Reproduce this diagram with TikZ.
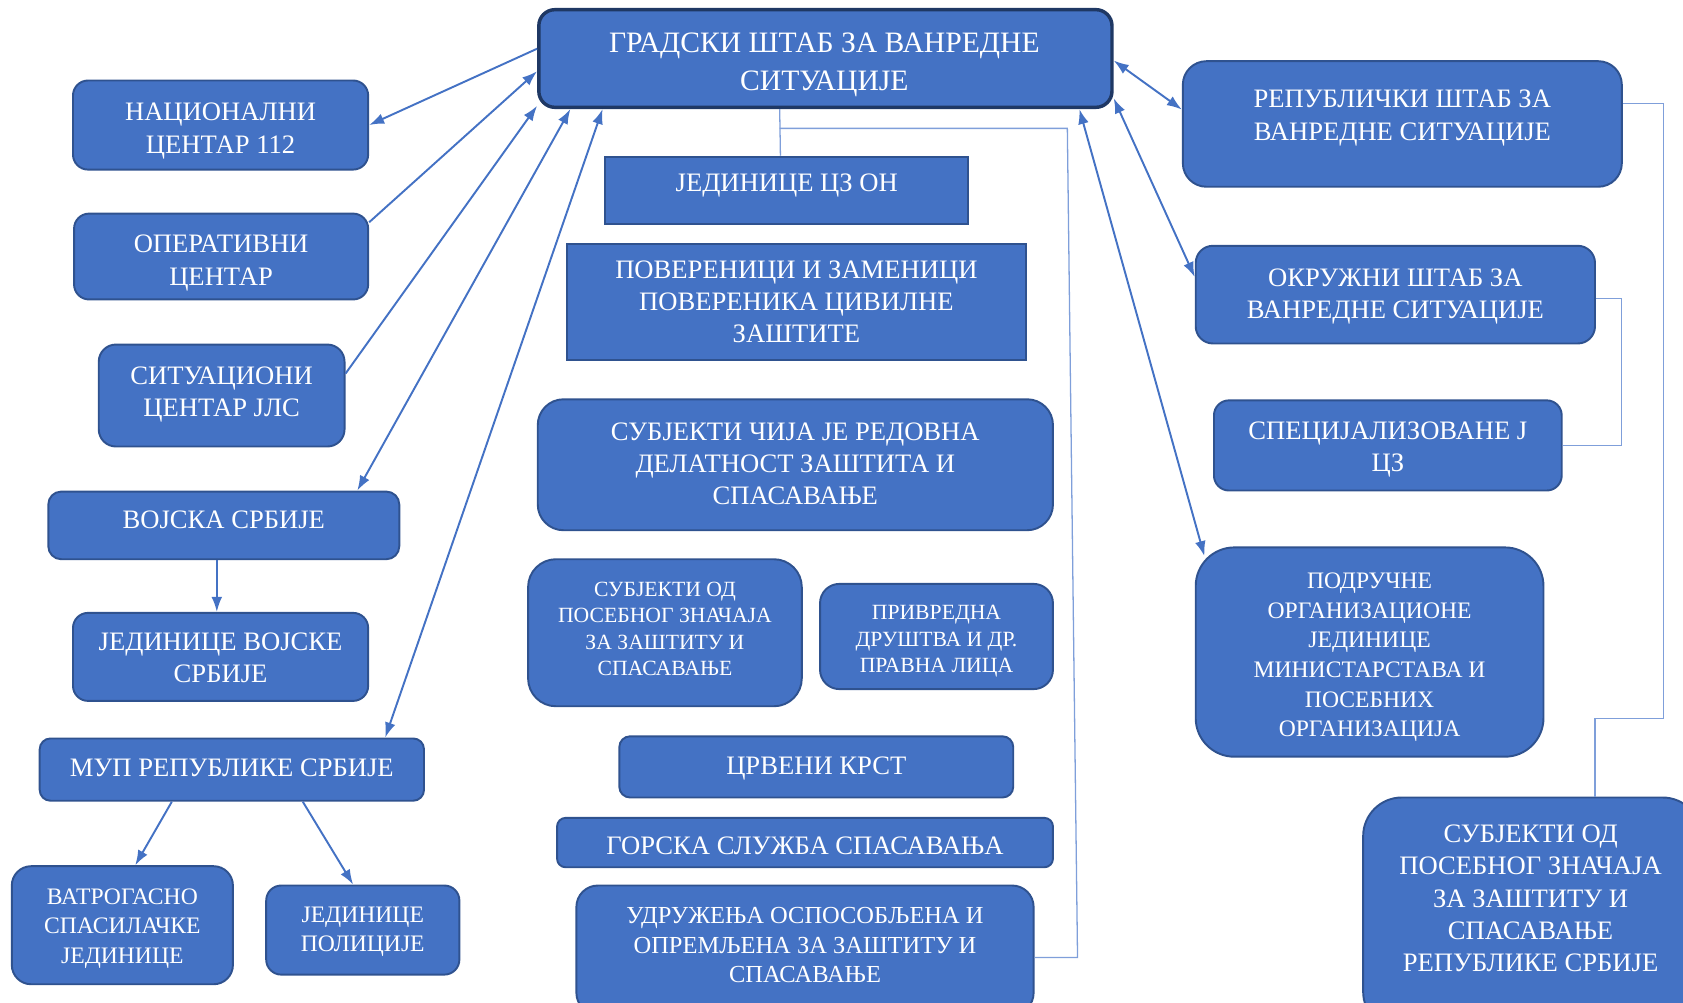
\documentclass[tikz,border=0pt]{standalone}
\usepackage{fontspec}
\setmainfont{Liberation Serif}
\usetikzlibrary{calc,arrows.meta}
\definecolor{bfill}{HTML}{4472C4}
\definecolor{bdraw}{HTML}{2F528F}
\definecolor{mdraw}{HTML}{1F3864}
\definecolor{thinc}{HTML}{7F9FDA}
\definecolor{arrc}{HTML}{4472C4}
\tikzset{
  box/.style={draw=bdraw, fill=bfill, line width=1.8pt, inner sep=0pt, rectangle},
  txt/.style={text=white, align=center, inner sep=0pt},
  fA/.style={font=\fontsize{24.8}{30}\selectfont},
  fM/.style={font=\fontsize{27.6}{35}\selectfont},
  fS/.style={font=\fontsize{20.2}{24.5}\selectfont},
  fV/.style={font=\fontsize{22}{27.5}\selectfont},
  fU/.style={font=\fontsize{22.8}{27.5}\selectfont},
  arr/.style={draw=arrc, line width=1.8pt, -{Latex[length=14pt,width=10pt]}},
  darr/.style={draw=arrc, line width=1.8pt, {Latex[length=14pt,width=10pt]}-{Latex[length=14pt,width=10pt]}},
  thinline/.style={draw=thinc, line width=1.2pt}
}
\begin{document}
\begin{tikzpicture}[x=1pt,y=-1pt]
\useasboundingbox (0,0) rectangle (1568,934);
\clip (0,0) rectangle (1568,934);
% main
\node[box, draw=mdraw, line width=3.2pt, rounded corners=15pt, minimum width=534pt, minimum height=91pt] (main) at (769,54.5) {};
\node[txt,fM] (mainT) at (768,60.5) {ГРАДСКИ ШТАБ ЗА ВАНРЕДНЕ\\СИТУАЦИЈЕ};
% left column
\node[box, rounded corners=14pt, minimum width=275pt, minimum height=83pt] (nac) at (205.5,116.5) {};
\node[txt,fA] (nacT) at (205.5,122) {НАЦИОНАЛНИ\\ЦЕНТАР 112};
\node[box, rounded corners=14pt, minimum width=274pt, minimum height=80pt] (oper) at (206,239) {};
\node[txt,fA] (operT) at (206,245) {ОПЕРАТИВНИ\\ЦЕНТАР};
\node[box, rounded corners=16pt, minimum width=229pt, minimum height=95pt] (sit) at (206.5,368.5) {};
\node[txt,fA] (sitT) at (206.5,367.5) {СИТУАЦИОНИ\\ЦЕНТАР ЈЛС};
\node[box, rounded corners=12pt, minimum width=327pt, minimum height=63pt] (vojska) at (208.5,489.5) {};
\node[txt,fA] (vojskaT) at (208.5,484) {ВОЈСКА СРБИЈЕ};
\node[box, rounded corners=14pt, minimum width=275pt, minimum height=82pt] (jvs) at (205.5,612) {};
\node[txt,fA] (jvsT) at (205.5,613) {ЈЕДИНИЦЕ ВОЈСКЕ\\СРБИЈЕ};
\node[box, rounded corners=10pt, minimum width=358pt, minimum height=58pt] (mup) at (216,717) {};
\node[txt,fA] (mupT) at (216,715) {МУП РЕПУБЛИКЕ СРБИЈЕ};
\node[box, rounded corners=18pt, minimum width=206pt, minimum height=110pt] (vat) at (114,862) {};
\node[txt,fV] (vatT) at (114,865) {ВАТРОГАСНО\\СПАСИЛАЧКЕ\\ЈЕДИНИЦЕ};
\node[box, rounded corners=14pt, minimum width=180pt, minimum height=83pt] (pol) at (338,866.5) {};
\node[txt,fV] (polT) at (338,868) {ЈЕДИНИЦЕ\\ПОЛИЦИЈЕ};
% centre column
\node[box, minimum width=338pt, minimum height=63pt] (czon) at (733,177.5) {};
\node[txt,fA] (czonT) at (733,173) {ЈЕДИНИЦЕ ЦЗ ОН};
\node[box, minimum width=428pt, minimum height=108pt] (pov) at (742,281) {};
\node[txt,fA] (povT) at (742,281) {ПОВЕРЕНИЦИ И ЗАМЕНИЦИ\\ПОВЕРЕНИКА ЦИВИЛНЕ\\ЗАШТИТЕ};
\node[box, rounded corners=24pt, minimum width=480pt, minimum height=122pt] (sub1) at (741,433) {};
\node[txt,fA] (sub1T) at (741,432) {СУБЈЕКТИ ЧИЈА ЈЕ РЕДОВНА\\ДЕЛАТНОСТ ЗАШТИТА И\\СПАСАВАЊЕ};
\node[box, rounded corners=26pt, minimum width=255pt, minimum height=137pt] (sub2) at (619.5,589.5) {};
\node[txt,fS] (sub2T) at (619.5,586) {СУБЈЕКТИ ОД\\ПОСЕБНОГ ЗНАЧАЈА\\ЗА ЗАШТИТУ И\\СПАСАВАЊЕ};
\node[box, rounded corners=18pt, minimum width=217pt, minimum height=98pt] (priv) at (872.5,593) {};
\node[txt,fS] (privT) at (872.5,597.5) {ПРИВРЕДНА\\ДРУШТВА И ДР.\\ПРАВНА ЛИЦА};
\node[box, rounded corners=10pt, minimum width=367pt, minimum height=57pt] (crv) at (760.5,714.5) {};
\node[txt,fA] (crvT) at (760.5,716) {ЦРВЕНИ КРСТ};
\node[box, rounded corners=8pt, minimum width=462pt, minimum height=46pt] (gor) at (750,785) {};
\node[txt,fA] (gorT) at (750,788) {ГОРСКА СЛУЖБА СПАСАВАЊА};
\node[box, rounded corners=20pt, minimum width=426pt, minimum height=120pt] (udr) at (750,885) {};
\node[txt,fU] (udrT) at (750,880.5) {УДРУЖЕЊА ОСПОСОБЉЕНА И\\ОПРЕМЉЕНА ЗА ЗАШТИТУ И\\СПАСАВАЊЕ};
% right column
\node[box, rounded corners=22pt, minimum width=409pt, minimum height=117pt] (rep) at (1306.5,115.5) {};
\node[txt,fA] (repT) at (1306.5,110) {РЕПУБЛИЧКИ ШТАБ ЗА\\ВАНРЕДНЕ СИТУАЦИЈЕ};
\node[box, rounded corners=16pt, minimum width=372pt, minimum height=91pt] (okr) at (1300,274.5) {};
\node[txt,fA] (okrT) at (1300,276) {ОКРУЖНИ ШТАБ ЗА\\ВАНРЕДНЕ СИТУАЦИЈЕ};
\node[box, rounded corners=14pt, minimum width=324pt, minimum height=84pt] (spec) at (1293,415) {};
\node[txt,fA] (specT) at (1293,419) {СПЕЦИЈАЛИЗОВАНЕ Ј\\ЦЗ};
\node[box, rounded corners=36pt, minimum width=324pt, minimum height=195pt] (pod) at (1276,607.5) {};
\node[txt,fV] (podT) at (1276,612.5) {ПОДРУЧНЕ\\ОРГАНИЗАЦИОНЕ\\ЈЕДИНИЦЕ\\МИНИСТАРСТАВА И\\ПОСЕБНИХ\\ОРГАНИЗАЦИЈА};
\node[box, rounded corners=36pt, minimum width=315pt, minimum height=217pt] (srs) at (1427.5,851.5) {};
\node[txt,fA] (srsT) at (1426,837) {СУБЈЕКТИ ОД\\ПОСЕБНОГ ЗНАЧАЈА\\ЗА ЗАШТИТУ И\\СПАСАВАЊЕ\\РЕПУБЛИКЕ СРБИЈЕ};
% thin connectors
\draw[thinline] ($(main.south west)+(226,0)$) -- ($(czon.north west)+(164,0)$);
\draw[thinline] ($(main.south west)+(226,18)$) -- ($(main.south west)+(494,18)$) -- ($(udr.north east)+(40,68)$) -- ($(udr.north east)+(0,68)$);
\draw[thinline] ($(rep.north east)+(0,40)$) -- ++(38,0) -- ++(0,573) -- ($(srs.north west)+(217,-73)$) -- ($(srs.north west)+(217,0)$);
\draw[thinline] ($(okr.north east)+(0,50)$) -- ++(24,0) |- (spec.east);
% arrows
\draw[arr] ($(main.north west)+(0,38)$) -- (nac.east);
\draw[arr] ($(oper.north east)+(0,9)$) -- ($(main.north west)+(0,59)$);
\draw[arr] ($(sit.north east)+(0,28)$) -- ($(main.south west)+(0,-3)$);
\draw[darr] ($(main.south west)+(31,0)$) -- ($(vojska.north east)+(-40,0)$);
\draw[darr] ($(main.south west)+(61,0)$) -- ($(mup.north east)+(-37,0)$);
\draw[arr] ([xshift=-6.5pt]vojska.south) -- ([xshift=-6.5pt]vojska.south |- jvs.north);
\draw[arr] ($(mup.south west)+(124,0)$) -- ($(vat.north)+(12,0)$);
\draw[arr] ($(mup.south west)+(246,0)$) -- ($(pol.north)+(-9,0)$);
\draw[darr] ($(main.north east)+(0,49)$) -- ($(rep.north west)+(0,46)$);
\draw[darr] ($(main.south east)+(0,-10)$) -- ($(okr.north west)+(0,30)$);
\draw[darr] ($(main.south east)+(-32,0)$) -- ($(pod.north west)+(9,9)$);
\end{tikzpicture}
\end{document}
